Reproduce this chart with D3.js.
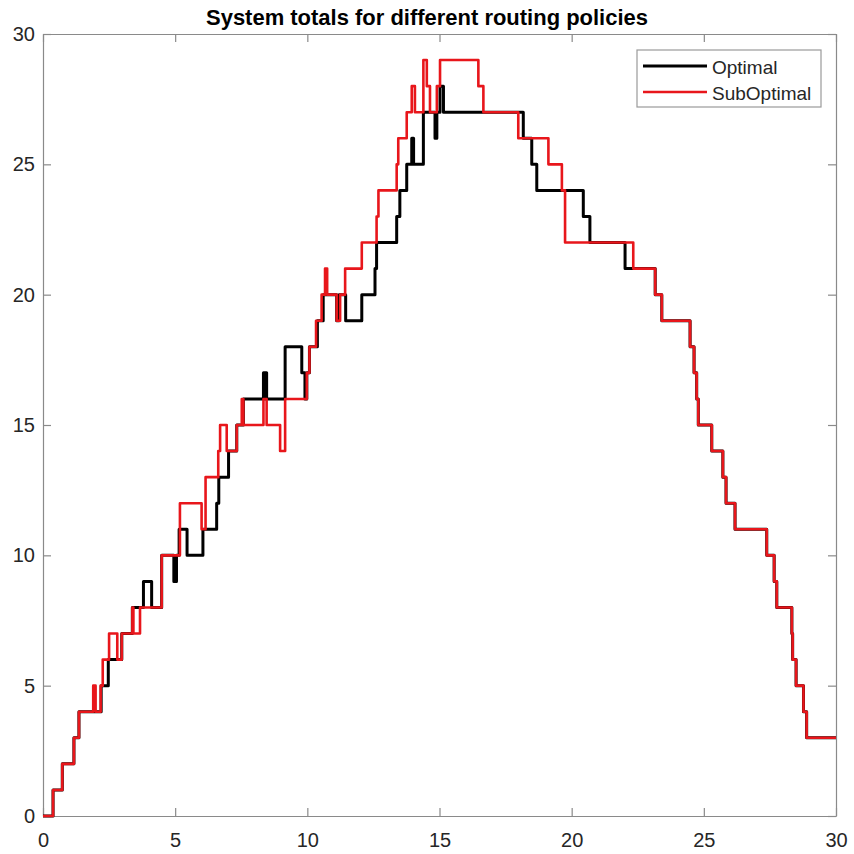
<!DOCTYPE html>
<html>
<head>
<meta charset="utf-8">
<script src="https://cdn.jsdelivr.net/npm/d3@7/dist/d3.min.js"></script>
<style>
  html, body { margin: 0; padding: 0; background: #fff; }
  svg { display: block; }
  text { font-family: "Liberation Sans", Arial, Helvetica, sans-serif; }
</style>
</head>
<body>
<svg id="chart" width="854" height="854"></svg>
<script>
// ---- data (step change points: value holds from time t until next t) ----
const titleText = "System totals for different routing policies";
const seriesNames = ["Optimal", "SubOptimal"];
const xTickValues = [0, 5, 10, 15, 20, 25, 30];
const yTickValues = [0, 5, 10, 15, 20, 25, 30];

const optT = [0, 0.38, 0.73, 1.17, 1.36, 2.20, 2.47, 2.98, 3.38, 3.80, 4.11, 4.49, 4.95, 5.05, 5.15, 5.45,
  6.05, 6.57, 6.65, 7.02, 7.33, 7.58, 8.34, 8.40, 8.42, 8.46, 9.16, 9.79, 9.91, 9.98, 10.08, 10.38, 10.60,
  11.11, 11.20, 11.45, 12.06, 12.56, 12.62, 13.38, 13.50, 13.76, 13.95, 14.02, 14.39, 14.83, 14.90, 15.02,
  15.15, 18.17, 18.49, 18.68, 20.44, 20.69, 22.02, 23.16, 23.41, 24.48, 24.63, 24.73, 24.79, 25.30, 25.72,
  25.84, 26.18, 27.38, 27.66, 27.76, 28.33, 28.36, 28.49, 28.77, 28.89, 30];
const optY = [0, 1, 2, 3, 4, 5, 6, 7, 8, 9, 8, 10, 9, 10, 11, 10,
  11, 12, 13, 14, 15, 16, 17, 16, 17, 16, 18, 17, 16, 17, 18, 19, 20,
  19, 20, 19, 20, 21, 22, 23, 24, 25, 26, 25, 27, 26, 27, 28,
  27, 26, 25, 24, 23, 22, 21, 20, 19, 18, 17, 16, 15, 14, 13,
  12, 11, 10, 9, 8, 7, 6, 5, 4, 3, 3];

const subT = [0, 0.38, 0.73, 1.17, 1.36, 1.90, 1.99, 2.18, 2.26, 2.50, 2.81, 2.98, 3.38, 3.42, 3.67, 4.49,
  5.18, 6.00, 6.15, 6.63, 6.70, 6.95, 7.33, 7.52, 7.58, 8.34, 8.46, 8.97, 9.16, 9.98, 10.08, 10.33, 10.54,
  10.67, 10.75, 11.11, 11.24, 11.43, 12.06, 12.62, 12.69, 13.38, 13.44, 13.76, 13.95, 14.07, 14.39, 14.52,
  14.64, 14.90, 15.02, 16.47, 16.66, 17.98, 19.12, 19.63, 19.75, 22.33, 23.16, 23.41, 24.48, 24.63, 24.73,
  24.79, 25.30, 25.72, 25.84, 26.18, 27.38, 27.66, 27.76, 28.33, 28.36, 28.49, 28.77, 28.89, 30];
const subY = [0, 1, 2, 3, 4, 5, 4, 5, 6, 7, 6, 7, 8, 7, 8, 10,
  12, 11, 13, 14, 15, 14, 15, 16, 15, 16, 15, 14, 16, 17, 18, 19, 20,
  21, 20, 19, 20, 21, 22, 23, 24, 25, 26, 27, 28, 27, 29, 28,
  27, 28, 29, 28, 27, 26, 25, 24, 22, 21, 20, 19, 18, 17, 16,
  15, 14, 13, 12, 11, 10, 9, 8, 7, 6, 5, 4, 3, 3];

const lineColors = ["#000000", "#e8161b"];
const lineWidths = [3, 2.6];

// ---- layout ----
const svg = d3.select("#chart");
const L = 43, R = 836, T = 34, B = 816;
const x = d3.scaleLinear().domain([0, 30]).range([L, R]);
const y = d3.scaleLinear().domain([0, 30]).range([B, T]);
const axisColor = "#8a8a8a";
const textColor = "#262626";
const tickLen = 8;

function styleAxis(g) {
  g.selectAll("path.domain").attr("stroke", axisColor).attr("stroke-width", 1.2);
  g.selectAll(".tick line").attr("stroke", axisColor).attr("stroke-width", 1.2);
  g.selectAll(".tick text").attr("fill", textColor).style("font-size", "20px")
    .style("font-family", "'Liberation Sans', Arial, sans-serif");
}

svg.append("g").attr("transform", `translate(0,${B})`)
  .call(d3.axisBottom(x).tickValues(xTickValues).tickSize(-tickLen).tickSizeOuter(0).tickPadding(17).tickFormat(d3.format("d")))
  .call(styleAxis);
svg.append("g").attr("transform", `translate(0,${T})`)
  .call(d3.axisTop(x).tickValues(xTickValues).tickSize(-tickLen).tickSizeOuter(0).tickFormat(""))
  .call(styleAxis);
svg.append("g").attr("transform", `translate(${L},0)`)
  .call(d3.axisLeft(y).tickValues(yTickValues).tickSize(-tickLen).tickSizeOuter(0).tickPadding(8).tickFormat(d3.format("d")))
  .call(styleAxis);
svg.append("g").attr("transform", `translate(${R},0)`)
  .call(d3.axisRight(y).tickValues(yTickValues).tickSize(-tickLen).tickSizeOuter(0).tickFormat(""))
  .call(styleAxis);

// ---- lines ----
const seriesT = [optT, subT];
const seriesY = [optY, subY];
const line = d3.line().x(d => x(d[0])).y(d => y(d[1])).curve(d3.curveStepAfter);
svg.append("clipPath").attr("id", "plotclip").append("rect")
  .attr("x", L - 2).attr("y", T - 2).attr("width", R - L + 4).attr("height", B - T + 4);
seriesNames.forEach((name, i) => {
  const pts = seriesT[i].map((t, k) => [t, seriesY[i][k]]);
  svg.append("path").datum(pts)
    .attr("d", line)
    .attr("fill", "none")
    .attr("stroke", lineColors[i])
    .attr("stroke-width", lineWidths[i])
    .attr("stroke-linejoin", "round")
    .attr("clip-path", "url(#plotclip)");
});

// ---- title ----
svg.append("text")
  .attr("x", 427).attr("y", 25)
  .attr("text-anchor", "middle")
  .style("font-size", "22.5px").style("font-weight", "bold")
  .attr("fill", "#000")
  .attr("textLength", 442).attr("lengthAdjust", "spacingAndGlyphs")
  .text(titleText);

// ---- legend ----
const lg = svg.append("g");
lg.append("rect").attr("x", 637).attr("y", 50).attr("width", 184).attr("height", 57)
  .attr("fill", "#fff").attr("stroke", "#9a9a9a").attr("stroke-width", 1.2);
const legendRowY = [66, 92];
seriesNames.forEach((name, i) => {
  lg.append("line").attr("x1", 643).attr("x2", 707)
    .attr("y1", legendRowY[i]).attr("y2", legendRowY[i])
    .attr("stroke", lineColors[i]).attr("stroke-width", lineWidths[i]);
  lg.append("text").attr("x", 712).attr("y", legendRowY[i] + 8)
    .attr("fill", textColor).style("font-size", "19px").text(name);
});
</script>
</body>
</html>
